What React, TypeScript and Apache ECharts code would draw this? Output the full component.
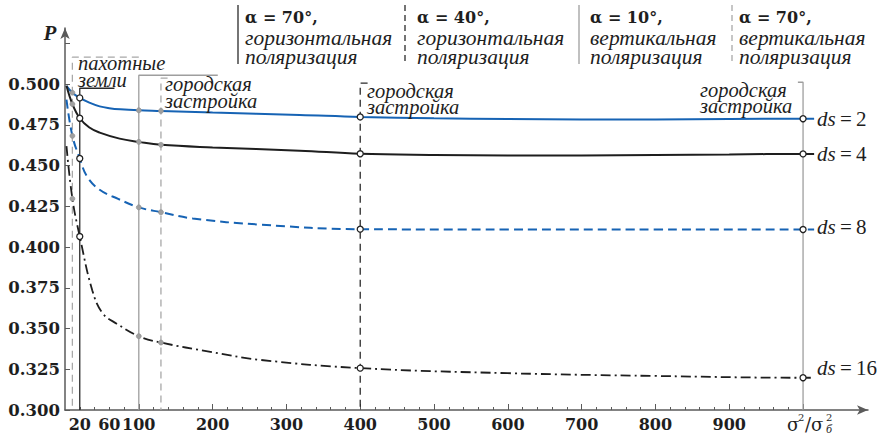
import React, { useEffect, useRef } from 'react';
import * as echarts from 'echarts';

// ---- data ----
const ds2 = [
  [2, 0.499], [10, 0.4948], [20, 0.4916], [33, 0.4887], [47, 0.4864], [60, 0.4853], [75, 0.4846],
  [100, 0.4840], [130, 0.4836], [200, 0.4826], [318, 0.4811], [400, 0.4799], [500, 0.4791],
  [600, 0.4786], [700, 0.4784], [800, 0.4784], [900, 0.4786], [1000, 0.4788], [1015, 0.4788],
];
const ds4 = [
  [2, 0.499], [10, 0.4878], [20, 0.4791], [33, 0.4734], [47, 0.4703], [74, 0.4666], [100, 0.4646],
  [130, 0.4628], [200, 0.4612], [318, 0.4592], [400, 0.4573], [500, 0.4566], [600, 0.4563],
  [700, 0.4563], [800, 0.4566], [900, 0.4569], [1000, 0.4572], [1015, 0.4572],
];
const ds8 = [
  [2, 0.4905], [10, 0.4683], [20, 0.4544], [30, 0.4432], [47, 0.4352], [72, 0.4296], [100, 0.4244],
  [130, 0.4214], [173, 0.4176], [264, 0.4138], [400, 0.4110], [600, 0.4108], [800, 0.4108],
  [1000, 0.4108], [1015, 0.4108],
];
const ds16 = [
  [2, 0.462], [10, 0.4297], [20, 0.4065], [37, 0.3734], [51, 0.3594], [70, 0.3530], [100, 0.3453],
  [130, 0.3414], [197, 0.3357], [264, 0.3308], [400, 0.3257], [600, 0.3226], [800, 0.3209],
  [1000, 0.3198], [1015, 0.3198],
];
const seriesValues = ['2', '4', '8', '16'];
const grayMarkX = [10, 100, 130];
const blackMarkX = [20, 400, 1000];

const yTickLabels = [0.3, 0.325, 0.35, 0.375, 0.4, 0.425, 0.45, 0.475, 0.5];
const yTicks = [0.3, 0.325, 0.35, 0.375, 0.4, 0.425, 0.45, 0.475, 0.5, 0.525];
const xTickLabels = [20, 60, 100, 200, 300, 400, 500, 600, 700, 800, 900];
const xMinorTicks = [
  20, 40, 60, 80, 100, 120, 140, 160, 180, 200, 220, 240, 260, 280, 300, 320, 340, 360, 380, 400,
  420, 440, 460, 480, 500, 520, 540, 560, 580, 600, 620, 640, 660, 680, 700, 720, 740, 760, 780, 800,
  820, 840, 860, 880, 900, 920, 940, 960, 980, 1000,
];
const xMajorTicks = [100, 200, 300, 400, 500, 600, 700, 800, 900, 1000];

// reference (vertical) lines: x position, bracket top (P units), bracket end (x units), style kind
const refX = [10, 20, 100, 130, 400, 1000];
const refTop = [0.5166, 0.4975, 0.5055, 0.5037, 0.5006, 0.5012];
const refEnd = [100, 67, 207, 139, 410, 993];
const refKind = ['grayDash', 'black', 'gray', 'grayDash', 'blackDash', 'gray'];

const headerAngle = ['α = 70°,', 'α = 40°,', 'α = 10°,', 'α = 70°,'];
const headerPol = ['горизонтальная', 'горизонтальная', 'вертикальная', 'вертикальная'];
const headerTail = ['поляризация', 'поляризация', 'поляризация', 'поляризация'];
const headerKind = ['black', 'blackDash', 'gray', 'grayDash'];

const FONT = "'DejaVu Serif', 'Liberation Serif', serif";
const IFONT = "'Liberation Serif', 'DejaVu Serif', serif";
const BLUE = '#1663b4';
const INK = '#1e1e1e';

const kindStyle: Record<string, any> = {
  black: { color: '#2a2a2a', width: 1.3, type: 'solid' },
  blackDash: { color: '#2a2a2a', width: 1.3, type: [7, 5] },
  gray: { color: '#9e9e9e', width: 1.3, type: 'solid' },
  grayDash: { color: '#a8a8a8', width: 1.3, type: [7, 5] },
};

function curve(val: string, pts: number[][], color: string, type: any, width: number, labelOffset: number) {
  const data = pts.map(([x, y]) => {
    if (grayMarkX.includes(x)) {
      return {
        value: [x, y], symbol: 'circle', symbolSize: 5,
        itemStyle: { color: '#a0a0a0', borderColor: '#8c8c8c', borderWidth: 0.6 },
      };
    }
    if (blackMarkX.includes(x)) {
      return {
        value: [x, y], symbol: 'circle', symbolSize: 6,
        itemStyle: { color: '#ffffff', borderColor: '#222', borderWidth: 1.3 },
      };
    }
    return { value: [x, y], symbol: 'none' };
  });
  return {
    type: 'line',
    name: 'ds = ' + val,
    data,
    smooth: 0.4,
    showSymbol: true,
    showAllSymbol: true,
    z: 5,
    silent: true,
    lineStyle: { color, width, type },
    endLabel: {
      show: true,
      distance: 3,
      offset: [0, labelOffset],
      formatter: () => '{i|ds}{n|\u2009=\u2009' + val + '}',
      rich: {
        i: { fontFamily: IFONT, fontStyle: 'italic', fontSize: 21, color: INK },
        n: { fontFamily: IFONT, fontSize: 21, color: INK },
      },
    },
  };
}

export default function App() {
  const ref = useRef<HTMLDivElement>(null);
  useEffect(() => {
    if (!ref.current) return;
    const chart = echarts.init(ref.current, null, { renderer: 'svg' });

    const refSeries = refX.map((x, i) => {
      const st = kindStyle[refKind[i]];
      return {
        type: 'line',
        data: [[refEnd[i], refTop[i]], [x, refTop[i]], [x, 0.3]],
        symbol: 'none',
        silent: true,
        z: 2,
        lineStyle: { color: st.color, width: st.width, type: st.type },
      };
    });

    const graphics: any[] = [];
    const colX = [245, 417, 590, 739];
    const sepX = [238, 405, 579, 732];
    headerAngle.forEach((t, i) => {
      const st = kindStyle[headerKind[i]];
      graphics.push({
        type: 'line', shape: { x1: sepX[i], y1: 5, x2: sepX[i], y2: 64 },
        style: { stroke: st.color, lineWidth: 1.3, lineDash: st.type === 'solid' ? null : [6, 4] },
      });
      graphics.push({ type: 'text', x: colX[i], y: 17, style: { text: t, font: `bold 16px ${FONT}`, fill: INK, verticalAlign: 'middle', lineHeight: 16 } });
      graphics.push({ type: 'text', x: colX[i], y: 38, style: { text: headerPol[i], font: `italic 21.5px ${IFONT}`, fill: INK, verticalAlign: 'middle', lineHeight: 15 } });
      graphics.push({ type: 'text', x: colX[i], y: 56.5, style: { text: headerTail[i], font: `italic 21.5px ${IFONT}`, fill: INK, verticalAlign: 'middle', lineHeight: 15 } });
    });

    const plotLabels: [string, number, number][] = [
      ['пахотные', 78, 63], ['земли', 78, 80],
      ['городская', 165, 84], ['застройка', 165, 101],
      ['городская', 367, 91], ['застройка', 367, 107],
      ['городская', 700, 90], ['застройка', 700, 105.5],
    ];
    plotLabels.forEach(([t, x, y]) => {
      graphics.push({ type: 'text', x, y, z: 10, style: { text: t, font: `italic 20.5px ${IFONT}`, fill: INK, verticalAlign: 'middle', lineHeight: 13 } });
    });

    graphics.push({ type: 'text', x: 50, y: 33, style: { text: 'P', font: `bold italic 21px ${IFONT}`, fill: INK, align: 'center', verticalAlign: 'middle' } });
    // axis title  σ²/σб²
    graphics.push({ type: 'text', x: 787, y: 424, style: { text: 'σ', font: `18px ${FONT}`, fill: INK, verticalAlign: 'middle' } });
    graphics.push({ type: 'text', x: 798, y: 417, style: { text: '2', font: `10px ${FONT}`, fill: INK, verticalAlign: 'middle' } });
    graphics.push({ type: 'text', x: 805, y: 424, style: { text: '/σ', font: `18px ${FONT}`, fill: INK, verticalAlign: 'middle' } });
    graphics.push({ type: 'text', x: 826, y: 417, style: { text: '2', font: `10px ${FONT}`, fill: INK, verticalAlign: 'middle' } });
    graphics.push({ type: 'text', x: 826, y: 429, style: { text: 'б', font: `italic 12px ${IFONT}`, fill: INK, verticalAlign: 'middle' } });

    const axisLineStyle = { color: '#5a5a5a', width: 1.5 };
    chart.setOption({
      animation: false,
      backgroundColor: '#ffffff',
      grid: { left: 65, right: 10, top: 28, bottom: 29, containLabel: false },
      xAxis: [
        {
          type: 'value', min: 0, max: 1088,
          axisLine: { show: true, lineStyle: axisLineStyle, symbol: ['none', 'arrow'], symbolSize: [7, 11] },
          axisTick: { show: true, inside: true, length: 3, customValues: xMinorTicks, lineStyle: { color: '#5a5a5a', width: 1 } },
          axisLabel: {
            customValues: xTickLabels, margin: 6,
            fontFamily: FONT, fontSize: 16, fontWeight: 'bold', color: INK,
          },
          splitLine: { show: false },
        },
        {
          type: 'value', min: 0, max: 1088, position: 'bottom',
          axisLine: { show: false },
          axisTick: { show: true, inside: true, length: 6, customValues: xMajorTicks, lineStyle: { color: '#5a5a5a', width: 1 } },
          axisLabel: { show: false },
          splitLine: { show: false },
        },
      ],
      yAxis: {
        type: 'value', min: 0.3, max: 0.5345,
        axisLine: { show: true, lineStyle: axisLineStyle, symbol: ['none', 'arrow'], symbolSize: [7, 11] },
        axisTick: { show: true, inside: true, length: 5, customValues: yTicks, lineStyle: { color: '#5a5a5a', width: 1 } },
        axisLabel: {
          customValues: yTickLabels, margin: 5,
          formatter: (v: number) => v.toFixed(3),
          fontFamily: FONT, fontSize: 16.5, fontWeight: 'bold', color: INK,
        },
        splitLine: { show: false },
      },
      series: [
        ...refSeries,
        curve(seriesValues[0], ds2, BLUE, 'solid', 2, 0),
        curve(seriesValues[1], ds4, INK, 'solid', 2, 0),
        curve(seriesValues[2], ds8, BLUE, [9, 5], 2, -3),
        curve(seriesValues[3], ds16, INK, [10, 4, 2, 4], 1.8, -10),
      ],
      graphic: graphics,
    });
    return () => chart.dispose();
  }, []);
  return <div ref={ref} style={{ position: 'fixed', left: 0, top: 0, width: 878, height: 439, background: '#fff' }} />;
}
